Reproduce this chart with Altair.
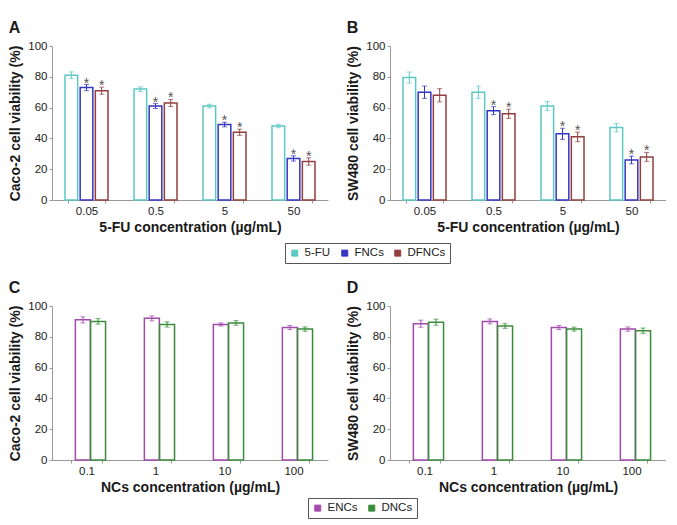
import altair as alt
import pandas as pd

FONT = "Liberation Sans"

# ---- data ----
conc_fu = ["0.05", "0.5", "5", "50"]
series_fu = ["5-FU", "FNCs", "DFNCs"]
colors_fu = ["#5cc9c4", "#3535c0", "#933f3f"]

caco_5fu = [81, 72, 61, 48]
caco_5fu_err = [2.2, 1.5, 1.2, 1.1]
caco_fncs = [73, 61, 49, 27]
caco_fncs_err = [2.0, 1.6, 1.5, 1.7]
caco_dfncs = [71, 63, 44, 25]
caco_dfncs_err = [2.3, 2.3, 2.0, 2.4]
caco_5fu_sig = [0, 0, 0, 0]
caco_fncs_sig = [1, 1, 1, 1]
caco_dfncs_sig = [1, 1, 1, 1]

sw_5fu = [79.5, 70, 61, 47]
sw_5fu_err = [3.6, 4.0, 3.0, 2.8]
sw_fncs = [70, 58, 43, 26]
sw_fncs_err = [4.0, 2.6, 3.6, 2.5]
sw_dfncs = [68, 56, 41, 28]
sw_dfncs_err = [4.3, 3.0, 3.1, 2.9]
sw_5fu_sig = [0, 0, 0, 0]
sw_fncs_sig = [0, 1, 1, 1]
sw_dfncs_sig = [0, 1, 1, 1]

conc_nc = ["0.1", "1", "10", "100"]
series_nc = ["ENCs", "DNCs"]
colors_nc = ["#a24aaa", "#3b8c3b"]

caco_encs = [91, 92, 88, 86]
caco_encs_err = [2.0, 1.6, 1.0, 1.3]
caco_dncs = [90, 88, 89, 85]
caco_dncs_err = [1.8, 1.7, 1.5, 1.4]

sw_encs = [88.5, 90, 86, 85]
sw_encs_err = [2.3, 1.6, 1.3, 1.4]
sw_dncs = [89.5, 87, 85, 84]
sw_dncs_err = [2.0, 1.5, 1.3, 1.7]

PW, PH = 276, 154


def make_df(concs, series, vals, errs, sigs=None):
    rows = []
    for si, s in enumerate(series):
        for ci, c in enumerate(concs):
            v = vals[si][ci]
            e = errs[si][ci]
            rows.append({"conc": c, "series": s, "value": v, "lo": v - e, "hi": v + e,
                         "sig": (sigs[si][ci] if sigs else 0)})
    return pd.DataFrame(rows)


def panel(df, concs, series, colors, letter, ytitle, xtitle, legend, pin):
    bar_w = PW / len(concs) * (1 - pin) / len(series)
    cscale = alt.Scale(domain=series, range=colors)
    base = alt.Chart(df).encode(
        x=alt.X("conc:N", sort=concs, title=xtitle,
                scale=alt.Scale(type="band", paddingInner=pin, paddingOuter=pin / 2),
                axis=alt.Axis(labelAngle=0, tickBand="extent", tickSize=3,
                              titleFontSize=14, titleFontWeight="bold",
                              labelFontSize=11.5, titlePadding=4)),
        xOffset=alt.XOffset("series:N", sort=series,
                            scale=alt.Scale(type="band", paddingInner=0, paddingOuter=0)),
    )
    yscale = alt.Scale(domain=[0, 100], nice=False)
    yaxis = alt.Axis(values=[0, 20, 40, 60, 80, 100], tickSize=3, labelOverlap=False,
                     titleFontSize=14, titleFontWeight="bold",
                     labelFontSize=11.5, titlePadding=5)
    bars = base.mark_bar(filled=False, strokeWidth=1.5, width=bar_w).encode(
        y=alt.Y("value:Q", scale=yscale, axis=yaxis, title=ytitle),
        color=alt.Color("series:N", sort=series, scale=cscale, legend=legend))
    rules = base.mark_rule(strokeWidth=1).encode(
        y=alt.Y("lo:Q", scale=yscale, axis=yaxis, title=ytitle), y2="hi:Q",
        stroke=alt.Stroke("series:N", sort=series, scale=cscale, legend=None))
    cap_lo = base.mark_tick(size=5, thickness=1).encode(
        y=alt.Y("lo:Q", scale=yscale, axis=yaxis, title=ytitle),
        fill=alt.Fill("series:N", sort=series, scale=cscale, legend=None))
    cap_hi = base.mark_tick(size=5, thickness=1).encode(
        y=alt.Y("hi:Q", scale=yscale, axis=yaxis, title=ytitle),
        fill=alt.Fill("series:N", sort=series, scale=cscale, legend=None))
    layers = [bars, rules, cap_lo, cap_hi]
    if df["sig"].sum() > 0:
        stars = base.transform_filter("datum.sig == 1").mark_text(
            text="*", fontSize=14, font=FONT, baseline="alphabetic", dy=3,
            color="#555555"
        ).encode(y=alt.Y("hi:Q", scale=yscale, axis=yaxis, title=ytitle))
        layers.append(stars)
    return alt.layer(*layers).properties(
        width=PW, height=PH,
        title=alt.TitleParams(letter, anchor="start", frame="bounds", fontSize=16,
                              fontWeight="bold", font=FONT, color="#1a1a1a", offset=4),
    )


def leg(x, y):
    return alt.Legend(orient="none", legendX=x, legendY=y, direction="horizontal",
                      title=None, symbolType="square", symbolSize=36,
                      symbolStrokeWidth=1, symbolFillColor="white",
                      strokeColor="#555555", fillColor="white", padding=4,
                      columnPadding=8, labelFontSize=11.5, labelOffset=4,
                      labelFont=FONT, labelColor="#222222")


dfA = make_df(conc_fu, series_fu, [caco_5fu, caco_fncs, caco_dfncs],
              [caco_5fu_err, caco_fncs_err, caco_dfncs_err],
              [caco_5fu_sig, caco_fncs_sig, caco_dfncs_sig])
dfB = make_df(conc_fu, series_fu, [sw_5fu, sw_fncs, sw_dfncs],
              [sw_5fu_err, sw_fncs_err, sw_dfncs_err],
              [sw_5fu_sig, sw_fncs_sig, sw_dfncs_sig])
dfC = make_df(conc_nc, series_nc, [caco_encs, caco_dncs], [caco_encs_err, caco_dncs_err])
dfD = make_df(conc_nc, series_nc, [sw_encs, sw_dncs], [sw_encs_err, sw_dncs_err])

xt_fu = "5-FU concentration (\u00b5g/mL)"
xt_nc = "NCs concentration (\u00b5g/mL)"

A = panel(dfA, conc_fu, series_fu, colors_fu, "A", "Caco-2 cell viability (%)", xt_fu,
          leg(233, 197), 0.45)
B = panel(dfB, conc_fu, series_fu, colors_fu, "B", "SW480 cell viability (%)", xt_fu,
          None, 0.45)
C = panel(dfC, conc_nc, series_nc, colors_nc, "C", "Caco-2 cell viability (%)", xt_nc,
          leg(256, 192), 0.565)
D = panel(dfD, conc_nc, series_nc, colors_nc, "D", "SW480 cell viability (%)", xt_nc,
          None, 0.565)

chart = alt.concat(A, B, C, D, columns=2, spacing={"row": 106, "column": 62},
                   bounds="flush").resolve_scale(
    color="independent", stroke="independent", fill="independent",
    x="independent", y="independent"
).properties(
    padding={"left": 0, "top": 12, "right": 0, "bottom": 0}
).configure_view(stroke=None).configure_axis(
    labelFont=FONT, titleFont=FONT, domainColor="#999999", tickColor="#999999",
    labelColor="#222222", titleColor="#1a1a1a", grid=False
)

chart.save("out.html", embed_options={"renderer": "svg", "actions": False})
